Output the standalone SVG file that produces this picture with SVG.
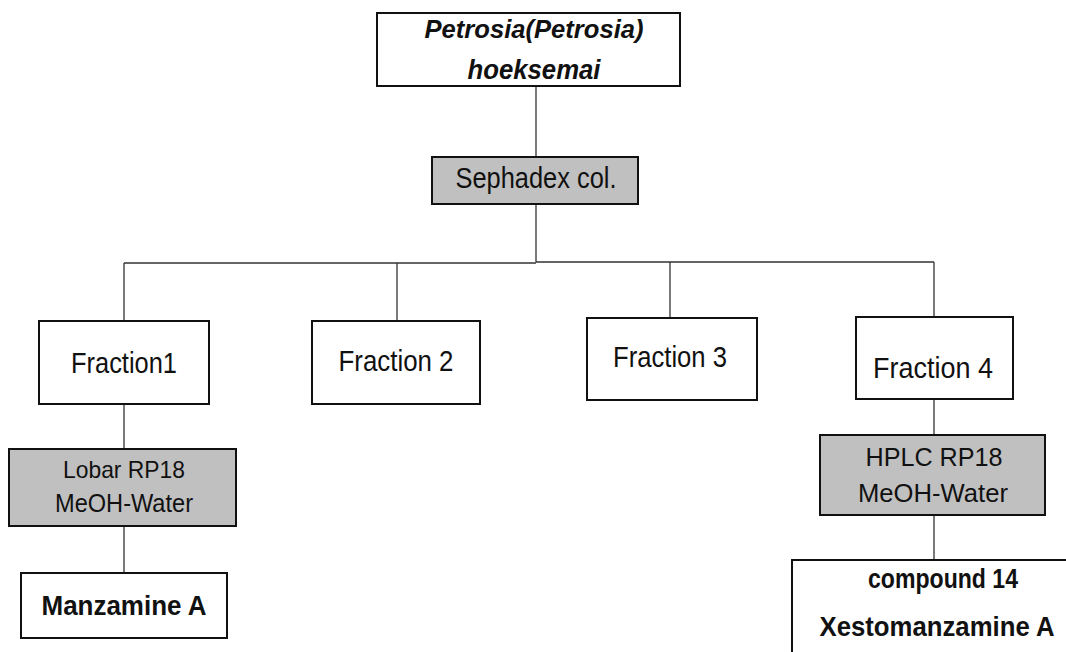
<svg xmlns="http://www.w3.org/2000/svg" width="1066" height="652" viewBox="0 0 1066 652">
<style>
.box{fill:#fff;stroke:#111;stroke-width:2}
.gray{fill:#c0c0c0;stroke:#111;stroke-width:2}
.t{font-family:"Liberation Sans",Arial,sans-serif;fill:#111;text-anchor:middle}
.b{font-weight:bold}
.bi{font-weight:bold;font-style:italic}
.c{fill:none;stroke:#333;stroke-width:1.3}
</style>
<rect width="1066" height="652" fill="#fff"/>
<g id="connectors">
<path class="c" d="M536 86V157M536 204V262M124 263H536M536 262H934M124 263V321M397 263V321M670 262V318M934 262V317M124 404V449M124 526V573M934 399V435M934 515V560"/>
</g>
<g id="n-top">
<rect class="box" x="377" y="13" width="303" height="73" stroke-width="2.5"/>
<text class="t bi" x="534" y="38" font-size="26" textLength="219" lengthAdjust="spacingAndGlyphs">Petrosia(Petrosia)</text>
<text class="t bi" x="534" y="79" font-size="27" textLength="133" lengthAdjust="spacingAndGlyphs">hoeksemai</text>
</g>
<g id="n-sephadex">
<rect class="gray" x="432" y="157" width="206" height="47"/>
<text class="t" x="536" y="188" font-size="29" textLength="161" lengthAdjust="spacingAndGlyphs">Sephadex col.</text>
</g>
<g id="n-f1">
<rect class="box" x="39" y="321" width="170" height="83"/>
<text class="t" x="124" y="373" font-size="29" textLength="106" lengthAdjust="spacingAndGlyphs">Fraction1</text>
</g>
<g id="n-f2">
<rect class="box" x="312" y="321" width="168" height="83"/>
<text class="t" x="396" y="371" font-size="29" textLength="115" lengthAdjust="spacingAndGlyphs">Fraction 2</text>
</g>
<g id="n-f3">
<rect class="box" x="587" y="318" width="170" height="82"/>
<text class="t" x="670" y="367" font-size="29" textLength="114" lengthAdjust="spacingAndGlyphs">Fraction 3</text>
</g>
<g id="n-f4">
<rect class="box" x="856" y="317" width="157" height="82"/>
<text class="t" x="933" y="378" font-size="29" textLength="120" lengthAdjust="spacingAndGlyphs">Fraction 4</text>
</g>
<g id="n-lobar">
<rect class="gray" x="9" y="449" width="227" height="77"/>
<text class="t" x="124" y="478" font-size="24" textLength="122" lengthAdjust="spacingAndGlyphs">Lobar RP18</text>
<text class="t" x="124" y="512" font-size="25" textLength="138" lengthAdjust="spacingAndGlyphs">MeOH-Water</text>
</g>
<g id="n-manz">
<rect class="box" x="21" y="573" width="206" height="65"/>
<text class="t b" x="124" y="615" font-size="28" textLength="165" lengthAdjust="spacingAndGlyphs">Manzamine A</text>
</g>
<g id="n-hplc">
<rect class="gray" x="820" y="435" width="225" height="80"/>
<text class="t" x="934" y="466" font-size="26" textLength="137" lengthAdjust="spacingAndGlyphs">HPLC RP18</text>
<text class="t" x="933" y="502" font-size="26" textLength="150" lengthAdjust="spacingAndGlyphs">MeOH-Water</text>
</g>
<g id="n-compound">
<path d="M792 652V560H1066" fill="#fff" stroke="#111" stroke-width="2"/>
<text class="t b" x="943" y="588" font-size="27" textLength="150" lengthAdjust="spacingAndGlyphs">compound 14</text>
<text class="t b" x="937" y="636" font-size="28" textLength="235" lengthAdjust="spacingAndGlyphs">Xestomanzamine A</text>
</g>
</svg>
